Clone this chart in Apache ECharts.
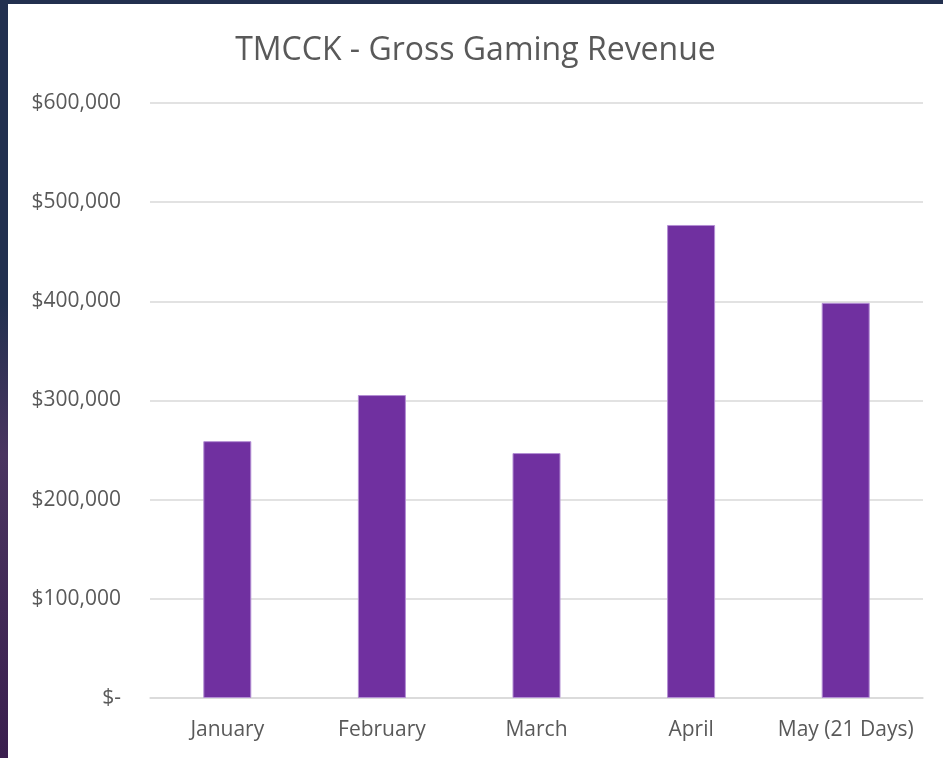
<!DOCTYPE html>
<html>
<head>
<meta charset="utf-8">
<script src="https://cdn.jsdelivr.net/npm/echarts@6/dist/echarts.min.js"></script>
<style>
  html, body { margin: 0; padding: 0; width: 943px; height: 758px; overflow: hidden; }
  body { background: linear-gradient(to bottom, #22304f 0%, #22304f 40%, #4a3560 60%, #3a1f4e 100%); }
  #chart { position: absolute; left: 8px; top: 4px; width: 935px; height: 754px; background: #ffffff; }
</style>
</head>
<body>
<div id="chart"></div>
<script>
const categories = ["January", "February", "March", "April", "May (21 Days)"];
const revenue = [259000, 305500, 247000, 477000, 398500];
const yTicks = [0, 100000, 200000, 300000, 400000, 500000, 600000];

function money(v) {
  if (v === 0) return "$-";
  return "$" + v.toLocaleString("en-US");
}

const chart = echarts.init(document.getElementById("chart"));
chart.setOption({
  animation: false,
  title: {
    text: "TMCCK - Gross Gaming Revenue",
    left: "center",
    top: 26,
    textStyle: { fontFamily: "Open Sans", fontSize: 32, fontWeight: "normal", color: "#595959" }
  },
  grid: { left: 142, right: 20, top: 99, bottom: 60 },
  xAxis: {
    type: "category",
    data: categories,
    axisLine: { lineStyle: { color: "#d9d9d9", width: 1.5 } },
    axisTick: { show: false },
    axisLabel: { fontFamily: "Open Sans", fontSize: 21, color: "#595959", margin: 22, interval: 0 }
  },
  yAxis: {
    type: "value",
    min: yTicks[0],
    max: yTicks[yTicks.length - 1],
    interval: 100000,
    axisLine: { show: false },
    axisTick: { show: false },
    splitLine: { lineStyle: { color: "#d9d9d9", width: 1.5 } },
    axisLabel: { fontFamily: "Open Sans", fontSize: 21, color: "#595959", margin: 29, formatter: money }
  },
  series: [{
    type: "bar",
    data: revenue,
    barWidth: 48,
    itemStyle: { color: "#7030a0", borderColor: "#b48fd4", borderWidth: 1 }
  }]
});
</script>
</body>
</html>
